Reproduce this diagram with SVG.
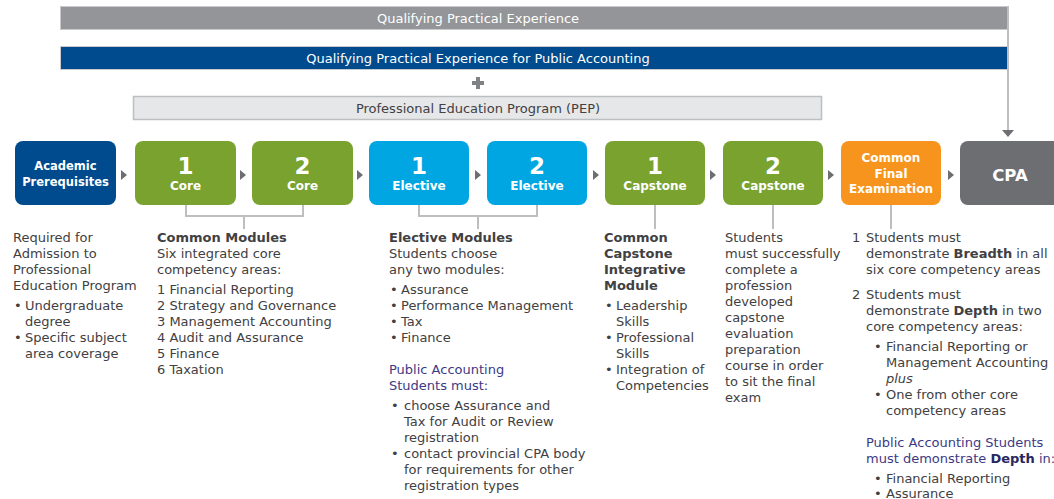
<svg xmlns="http://www.w3.org/2000/svg" width="1054" height="499" viewBox="0 0 1054 499">
<style>
text{font-family:"DejaVu Sans","Liberation Sans",sans-serif}
.bar{font-size:13px;fill:#fff;text-anchor:middle}
.pep{font-size:13px;fill:#414042;text-anchor:middle}
.nd{fill:#fff;font-weight:bold;text-anchor:middle}
.num{font-size:23px}
.lbl{font-size:12px}
.body{font-size:13px;fill:#414042}
.pub{fill:#3d3a85}
.pubb{fill:#27265e;font-weight:bold}
.b{font-weight:bold}
.conn{stroke:#bcbec0;stroke-width:2;fill:none}
.tri{fill:#6d6e71}
</style>
<g id="bar-qpe">
<rect x="60.5" y="6.5" width="948" height="23" fill="#939598" stroke="#c9cacc" stroke-width="1"/>
<text class="bar" x="478" y="22.5">Qualifying Practical Experience</text>
</g>
<g id="bar-qpe-public">
<rect x="60.5" y="46.5" width="947" height="23" fill="#004b8d" stroke="#c9cacc" stroke-width="1"/>
<text class="bar" x="478" y="62.5">Qualifying Practical Experience for Public Accounting</text>
</g>
<g id="plus">
<rect x="472" y="81" width="12" height="4" fill="#808285"/>
<rect x="476" y="77" width="4" height="12" fill="#808285"/>
</g>
<g id="bar-pep">
<rect x="133.5" y="96.5" width="688" height="23" fill="#e6e7e8" stroke="#bcbec0" stroke-width="1.5"/>
<text class="pep" x="478" y="113">Professional Education Program (PEP)</text>
</g>
<g id="connectors">
<path class="conn" d="M1008 6 V131"/>
<polygon class="tri" points="1002,130 1014,130 1008,137"/>
<path class="conn" d="M186 205 V216 H303 V205 M244 216 V229"/>
<path class="conn" d="M419 205 V216 H537 V205 M478 216 V229"/>
<path class="conn" d="M655 205 V229 M773 205 V229 M891 205 V229"/>
<polygon class="tri" points="121,170 127,175 121,180"/>
<polygon class="tri" points="240,170 246,175 240,180"/>
<polygon class="tri" points="357,170 363,175 357,180"/>
<polygon class="tri" points="475,170 481,175 475,180"/>
<polygon class="tri" points="593,170 599,175 593,180"/>
<polygon class="tri" points="710,170 716,175 710,180"/>
<polygon class="tri" points="828,170 834,175 828,180"/>
<polygon class="tri" points="948,170 954,175 948,180"/>
</g>
<g id="node-academic">
<rect x="15" y="141" width="101" height="64" rx="8" fill="#004b8d"/>
<text class="nd" style="font-size:11.5px" x="65.5" y="170">Academic</text>
<text class="nd" style="font-size:11.5px" x="65.5" y="186">Prerequisites</text>
</g>
<g id="node-core1">
<rect x="135" y="141" width="101" height="64" rx="8" fill="#79a22f"/>
<text class="nd num" x="185.5" y="174">1</text>
<text class="nd lbl" x="185.5" y="190">Core</text>
</g>
<g id="node-core2">
<rect x="252" y="141" width="101" height="64" rx="8" fill="#79a22f"/>
<text class="nd num" x="302.5" y="174">2</text>
<text class="nd lbl" x="302.5" y="190">Core</text>
</g>
<g id="node-elective1">
<rect x="369" y="141" width="100" height="64" rx="8" fill="#00a6e1"/>
<text class="nd num" x="419" y="174">1</text>
<text class="nd lbl" x="419" y="190">Elective</text>
</g>
<g id="node-elective2">
<rect x="487" y="141" width="100" height="64" rx="8" fill="#00a6e1"/>
<text class="nd num" x="537" y="174">2</text>
<text class="nd lbl" x="537" y="190">Elective</text>
</g>
<g id="node-capstone1">
<rect x="605" y="141" width="100" height="64" rx="8" fill="#79a22f"/>
<text class="nd num" x="655" y="174">1</text>
<text class="nd lbl" x="655" y="190">Capstone</text>
</g>
<g id="node-capstone2">
<rect x="723" y="141" width="100" height="64" rx="8" fill="#79a22f"/>
<text class="nd num" x="773" y="174">2</text>
<text class="nd lbl" x="773" y="190">Capstone</text>
</g>
<g id="node-cfe">
<rect x="841" y="141" width="100" height="64" rx="8" fill="#f7941d"/>
<text class="nd lbl" x="891" y="162">Common</text>
<text class="nd lbl" x="891" y="177.5">Final</text>
<text class="nd lbl" x="891" y="193">Examination</text>
</g>
<g id="node-cpa">
<rect x="960" y="141" width="104" height="64" rx="8" fill="#6d6e71"/>
<text class="nd" style="font-size:16.5px" x="1010" y="181">CPA</text>
</g>
<g id="text-academic">
<text class="body">
<tspan x="13" y="242">Required for</tspan>
<tspan x="13" y="258">Admission to</tspan>
<tspan x="13" y="274">Professional</tspan>
<tspan x="13" y="290">Education Program</tspan>
<tspan x="14" y="310">•</tspan><tspan x="25" y="310">Undergraduate</tspan>
<tspan x="25" y="326">degree</tspan>
<tspan x="14" y="342">•</tspan><tspan x="25" y="342">Specific subject</tspan>
<tspan x="25" y="358">area coverage</tspan>
</text>
</g>
<g id="text-core">
<text class="body">
<tspan x="157" y="242" class="b">Common Modules</tspan>
<tspan x="157" y="258">Six integrated core</tspan>
<tspan x="157" y="274">competency areas:</tspan>
<tspan x="157" y="294">1 Financial Reporting</tspan>
<tspan x="157" y="310">2 Strategy and Governance</tspan>
<tspan x="157" y="326">3 Management Accounting</tspan>
<tspan x="157" y="342">4 Audit and Assurance</tspan>
<tspan x="157" y="358">5 Finance</tspan>
<tspan x="157" y="374">6 Taxation</tspan>
</text>
</g>
<g id="text-elective">
<text class="body">
<tspan x="389" y="242" class="b">Elective Modules</tspan>
<tspan x="389" y="258">Students choose</tspan>
<tspan x="389" y="274">any two modules:</tspan>
<tspan x="390" y="294">•</tspan><tspan x="401" y="294">Assurance</tspan>
<tspan x="390" y="310">•</tspan><tspan x="401" y="310">Performance Management</tspan>
<tspan x="390" y="326">•</tspan><tspan x="401" y="326">Tax</tspan>
<tspan x="390" y="342">•</tspan><tspan x="401" y="342">Finance</tspan>
<tspan x="389" y="374" class="pub">Public Accounting</tspan>
<tspan x="389" y="390" class="pub">Students must:</tspan>
<tspan x="391" y="410">•</tspan><tspan x="404" y="410">choose Assurance and</tspan>
<tspan x="404" y="426">Tax for Audit or Review</tspan>
<tspan x="404" y="442">registration</tspan>
<tspan x="391" y="458">•</tspan><tspan x="404" y="458">contact provincial CPA body</tspan>
<tspan x="404" y="474">for requirements for other</tspan>
<tspan x="404" y="490">registration types</tspan>
</text>
</g>
<g id="text-capstone1">
<text class="body">
<tspan x="604" y="242" class="b">Common</tspan>
<tspan x="604" y="258" class="b">Capstone</tspan>
<tspan x="604" y="274" class="b">Integrative</tspan>
<tspan x="604" y="290" class="b">Module</tspan>
<tspan x="605" y="310">•</tspan><tspan x="616" y="310">Leadership</tspan>
<tspan x="616" y="326">Skills</tspan>
<tspan x="605" y="342">•</tspan><tspan x="616" y="342">Professional</tspan>
<tspan x="616" y="358">Skills</tspan>
<tspan x="605" y="374">•</tspan><tspan x="616" y="374">Integration of</tspan>
<tspan x="616" y="390">Competencies</tspan>
</text>
</g>
<g id="text-capstone2">
<text class="body">
<tspan x="725" y="242">Students</tspan>
<tspan x="725" y="258">must successfully</tspan>
<tspan x="725" y="274">complete a</tspan>
<tspan x="725" y="290">profession</tspan>
<tspan x="725" y="306">developed</tspan>
<tspan x="725" y="322">capstone</tspan>
<tspan x="725" y="338">evaluation</tspan>
<tspan x="725" y="354">preparation</tspan>
<tspan x="725" y="370">course in order</tspan>
<tspan x="725" y="386">to sit the final</tspan>
<tspan x="725" y="402">exam</tspan>
</text>
</g>
<g id="text-cfe">
<text class="body">
<tspan x="852" y="242">1</tspan><tspan x="866" y="242">Students must</tspan>
<tspan x="866" y="258">demonstrate <tspan class="b">Breadth</tspan> in all</tspan>
<tspan x="866" y="274">six core competency areas</tspan>
<tspan x="852" y="299">2</tspan><tspan x="866" y="299">Students must</tspan>
<tspan x="866" y="315">demonstrate <tspan class="b">Depth</tspan> in two</tspan>
<tspan x="866" y="331">core competency areas:</tspan>
<tspan x="874" y="351">•</tspan><tspan x="886" y="351">Financial Reporting or</tspan>
<tspan x="886" y="367">Management Accounting</tspan>
<tspan x="886" y="383" font-style="italic">plus</tspan>
<tspan x="874" y="399">•</tspan><tspan x="886" y="399">One from other core</tspan>
<tspan x="886" y="415">competency areas</tspan>
<tspan x="866" y="447" class="pub">Public Accounting Students</tspan>
<tspan x="866" y="463" class="pub">must demonstrate <tspan class="pubb">Depth</tspan> in:</tspan>
<tspan x="874" y="483">•</tspan><tspan x="886" y="483">Financial Reporting</tspan>
<tspan x="874" y="498">•</tspan><tspan x="886" y="498">Assurance</tspan>
</text>
</g>
</svg>
